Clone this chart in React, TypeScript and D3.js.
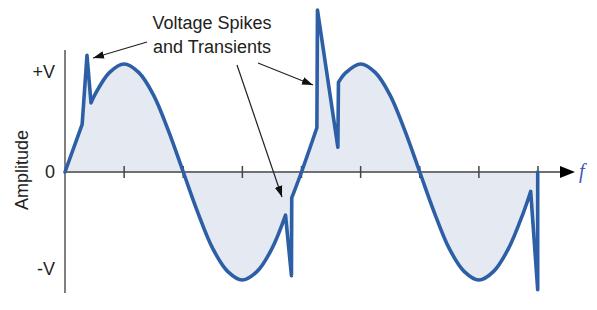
import React from "react";
import * as d3 from "d3";

const W = 597;
const H = 310;

// Waveform: position in quarter-periods, amplitude in units of V, sharp = slope break
const waveQ = [0, 0.29, 0.372, 0.44, 0.5, 0.75, 1, 1.25, 1.5, 1.75, 2, 2.25, 2.5, 2.75, 3, 3.25, 3.5, 3.73, 3.83, 3.835, 4, 4.26, 4.27, 4.615, 4.625, 4.75, 5, 5.25, 5.5, 5.75, 6, 6.25, 6.5, 6.75, 7, 7.25, 7.5, 7.75, 7.876, 7.995, 7.995];
const waveV = [0, 0.44, 1.08, 0.64, 0.71, 0.92, 1, 0.92, 0.71, 0.38, 0, -0.38, -0.71, -0.92, -1, -0.92, -0.71, -0.4, -0.96, -0.24, 0, 0.41, 1.5, 0.23, 0.83, 0.92, 1, 0.92, 0.71, 0.38, 0, -0.38, -0.71, -0.92, -1, -0.92, -0.71, -0.38, -0.18, -1.09, 0];
const waveSharp = [1, 1, 1, 1, 0, 0, 0, 0, 0, 0, 0, 0, 0, 0, 0, 0, 0, 1, 1, 1, 0, 1, 1, 1, 1, 0, 0, 0, 0, 0, 0, 0, 0, 0, 0, 0, 0, 0, 1, 1, 1];

const tickQ = [1, 2, 3, 4, 5, 6, 7, 8];
const yLabels = ["+V", "0", "-V"];
const yLabelV = [0.935, 0, -0.89];

const noteLines = ["Voltage Spikes", "and Transients"];
const noteLineV = [1.324, 1.102];
const noteQ = 2.486;
// arrows: start (q,v) -> tip (q,v)
const arrowFromQ = [1.387, 3.264, 2.909];
const arrowFromV = [1.204, 1.009, 0.991];
const arrowToQ = [0.474, 4.194, 3.67];
const arrowToV = [1.056, 0.806, -0.231];

export default function App() {
  const x = d3.scaleLinear().domain([0, 8]).range([65, 538]);
  const y = d3.scaleLinear().domain([-1, 1]).range([280, 64]);

  const pts: [number, number][] = waveQ.map((q, i) => [x(q), y(waveV[i])]);
  // split into runs at sharp points
  const runs: [number, number][][] = [];
  let cur: [number, number][] = [pts[0]];
  for (let i = 1; i < pts.length; i++) {
    cur.push(pts[i]);
    if (waveSharp[i]) {
      runs.push(cur);
      cur = [pts[i]];
    }
  }
  if (cur.length > 1) runs.push(cur);

  const smooth = d3.line().curve(d3.curveCatmullRom.alpha(0.5));
  const straight = d3.line();
  let d = "";
  runs.forEach((r, i) => {
    const s = (r.length > 2 ? smooth(r) : straight(r)) || "";
    d += i === 0 ? s : s.replace(/^M[^LC]*/, "");
  });
  const last = pts[pts.length - 1];
  const areaD = d + `L${last[0]},${y(0)}L${pts[0][0]},${y(0)}Z`;

  const y0 = y(0);
  const axisEnd = x(8.626);
  const font = "'Liberation Sans', Arial, sans-serif";

  return (
    <svg width={W} height={H} style={{ position: "absolute", left: 0, top: 0, background: "#fff" }}>
      <defs>
        <marker id="ah" viewBox="0 0 10 10" refX="10" refY="5" markerWidth="11" markerHeight="11" markerUnits="userSpaceOnUse" orient="auto">
          <path d="M0,1.5 L10,5 L0,8.5 Z" fill="#111" />
        </marker>
      </defs>
      <path d={areaD} fill="#e5eaf2" stroke="none" />
      {/* axes */}
      <line x1={x(0)} x2={x(0)} y1={50} y2={293} stroke="#808080" strokeWidth={2} />
      <line x1={x(0)} x2={axisEnd - 12} y1={y0} y2={y0} stroke="#707070" strokeWidth={2} />
      <path d={`M${axisEnd - 15},${y0 - 6} L${axisEnd},${y0} L${axisEnd - 15},${y0 + 6} Z`} fill="#000" />
      {tickQ.map((q) => (
        <line key={q} x1={x(q)} x2={x(q)} y1={y0 - 6} y2={y0 + 6} stroke="#444" strokeWidth={1.5} />
      ))}
      <path d={d} fill="none" stroke="#2d5fa7" strokeWidth={3.6} strokeLinejoin="round" strokeLinecap="round" />
      {yLabels.map((t, i) => (
        <text key={t} x={55} y={y(yLabelV[i])} dy="0.36em" textAnchor="end" fontFamily={font} fontSize={18} fill="#222">
          {t}
        </text>
      ))}
      <text transform={`translate(28,170) rotate(-90)`} textAnchor="middle" fontFamily={font} fontSize={18} fill="#222">
        Amplitude
      </text>
      <text x={579} y={178} fontFamily="'Liberation Serif', 'Times New Roman', serif" fontStyle="italic" fontSize={20} fill="#4655c4">
        f
      </text>
      {noteLines.map((t, i) => (
        <text key={t} x={x(noteQ)} y={y(noteLineV[i])} textAnchor="middle" fontFamily={font} fontSize={18} fill="#222">
          {t}
        </text>
      ))}
      {arrowFromQ.map((q, i) => (
        <line key={i} x1={x(q)} y1={y(arrowFromV[i])} x2={x(arrowToQ[i])} y2={y(arrowToV[i])} stroke="#222" strokeWidth={1.2} markerEnd="url(#ah)" />
      ))}
    </svg>
  );
}
